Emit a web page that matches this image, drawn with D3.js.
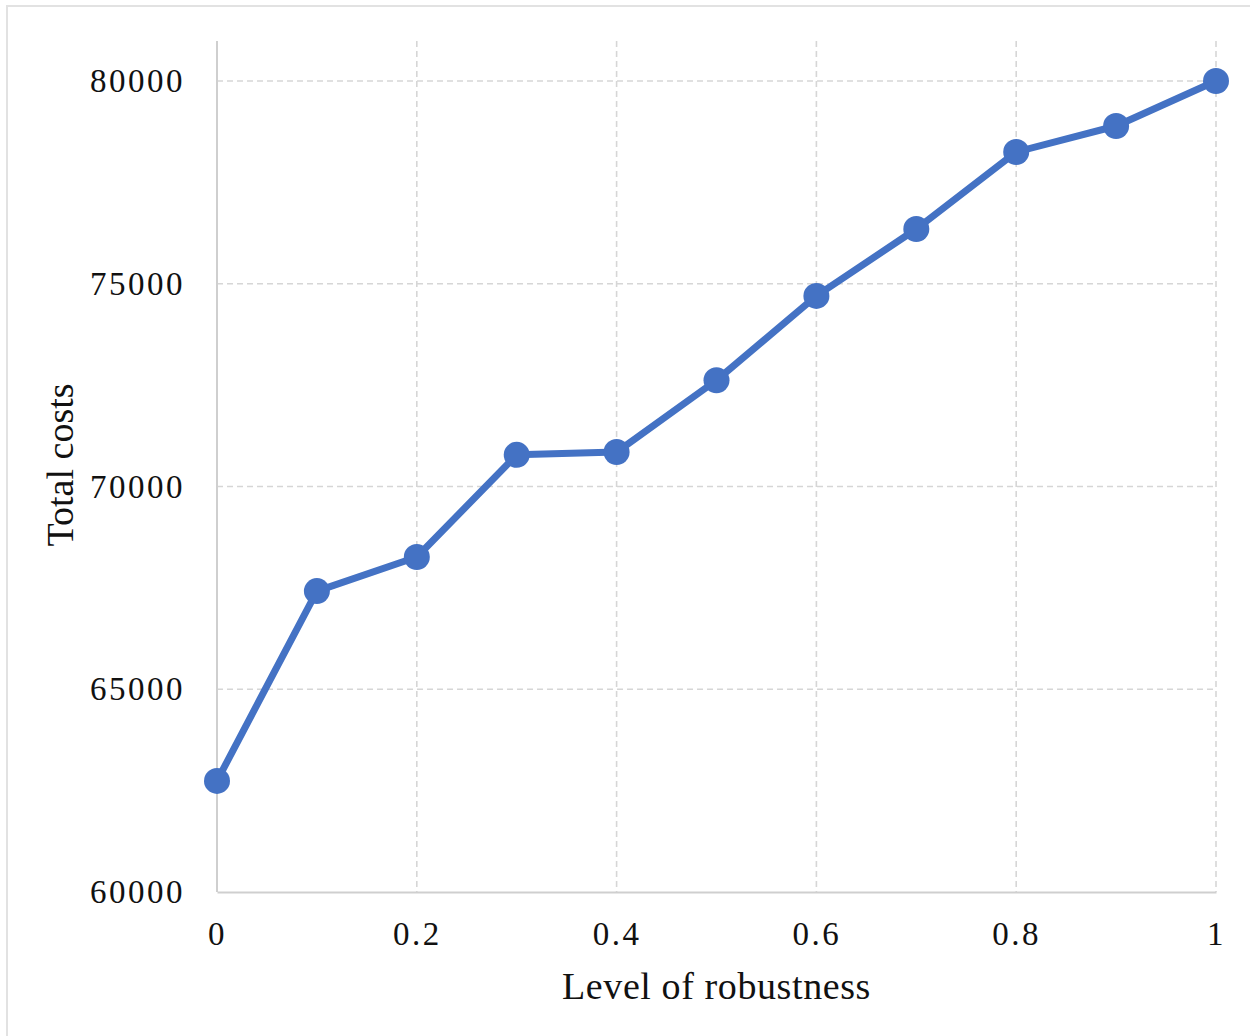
<!DOCTYPE html>
<html>
<head>
<meta charset="utf-8">
<script src="https://cdn.jsdelivr.net/npm/d3@7"></script>
<style>
  body { margin: 0; background: #fff; }
  text { font-family: "Liberation Serif", "DejaVu Serif", serif; fill: #111; }
</style>
</head>
<body>
<div id="chart"></div>
<script>
// data
var robustness = [0, 0.1, 0.2, 0.3, 0.4, 0.5, 0.6, 0.7, 0.8, 0.9, 1];
var totalCosts = [62740, 67420, 68260, 70780, 70850, 72620, 74700, 76350, 78250, 78890, 80000];
var xTicks = [0, 0.2, 0.4, 0.6, 0.8, 1];
var yTicks = [60000, 65000, 70000, 75000, 80000];

var W = 1250, H = 1036;
var margin = {top: 41, right: 34, bottom: 144, left: 217},
    width = 1216 - margin.left,
    height = 892 - margin.top;

var svg = d3.select("#chart")
  .append("svg")
    .attr("width", W)
    .attr("height", H);

// outer frame (only top/left visible)
svg.append("rect")
  .attr("x", 7).attr("y", 6)
  .attr("width", W + 20).attr("height", H + 20)
  .attr("fill", "none")
  .attr("stroke", "#e2e2e2")
  .attr("stroke-width", 2);

var g = svg.append("g")
  .attr("transform", "translate(" + margin.left + "," + margin.top + ")");

var x = d3.scaleLinear().domain([0, 1]).range([0, width]);
var y = d3.scaleLinear().domain([60000, 80000]).range([height, 40]);

// grid lines
g.selectAll(".hgrid")
  .data(yTicks.slice(1))
  .enter().append("line")
    .attr("x1", 0).attr("x2", width)
    .attr("y1", d => y(d)).attr("y2", d => y(d))
    .attr("stroke", "#d6d6d6")
    .attr("stroke-width", 1.6)
    .attr("stroke-dasharray", "6,4");

g.selectAll(".vgrid")
  .data(xTicks.slice(1))
  .enter().append("line")
    .attr("x1", d => x(d)).attr("x2", d => x(d))
    .attr("y1", 0).attr("y2", height)
    .attr("stroke", "#d6d6d6")
    .attr("stroke-width", 1.6)
    .attr("stroke-dasharray", "6,4");

// axes
var xAxis = g.append("g")
  .attr("transform", "translate(0," + height + ")")
  .call(d3.axisBottom(x).tickValues(xTicks).tickSize(0).tickPadding(30)
    .tickFormat(d => String(d)));
var yAxis = g.append("g")
  .call(d3.axisLeft(y).tickValues(yTicks).tickSize(0).tickPadding(32)
    .tickFormat(d => String(d)));

[xAxis, yAxis].forEach(function(a) {
  a.select(".domain").attr("stroke", "#cfcfcf").attr("stroke-width", 2);
  a.selectAll("text")
    .style("font-family", "Liberation Serif, serif")
    .style("font-size", "33px")
    .style("letter-spacing", "2.5px")
    .attr("fill", "#111");
});
yAxis.select(".domain").attr("d", "M0," + height + "V0");

// line
var line = d3.line()
  .x((d, i) => x(robustness[i]))
  .y(d => y(d));

g.append("path")
  .datum(totalCosts)
  .attr("fill", "none")
  .attr("stroke", "#4472c4")
  .attr("stroke-width", 7)
  .attr("stroke-linejoin", "round")
  .attr("d", line);

g.selectAll(".dot")
  .data(totalCosts)
  .enter().append("circle")
    .attr("cx", (d, i) => x(robustness[i]))
    .attr("cy", d => y(d))
    .attr("r", 13)
    .attr("fill", "#4472c4");

// axis titles
svg.append("text")
  .attr("x", margin.left + width / 2)
  .attr("y", 999)
  .attr("text-anchor", "middle")
  .style("font-size", "38px")
  .style("letter-spacing", "0.6px")
  .text("Level of robustness");

svg.append("text")
  .attr("transform", "translate(73," + 465 + ") rotate(-90)")
  .attr("text-anchor", "middle")
  .style("font-size", "38px")
  .text("Total costs");
</script>
</body>
</html>
